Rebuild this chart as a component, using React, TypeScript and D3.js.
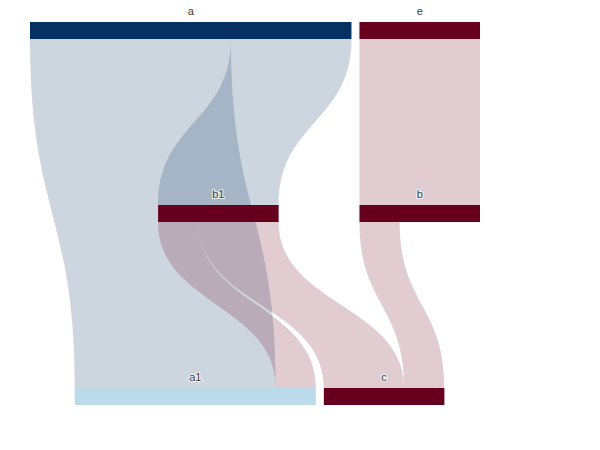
import React from "react";
import * as d3 from "d3";

// nodes and links of the flow
const nodeNames = ["a", "e", "b1", "b", "a1", "c"];
const nodeColors = ["#053061", "#67001f", "#67001f", "#67001f", "#bcdbea", "#67001f"];
const linkSources = ["a", "a", "b1", "b1", "e", "b"];
const linkTargets = ["a1", "b1", "a1", "c", "b", "c"];
const linkValues = [5, 3, 1, 2, 3, 1];

const width = 600,
  height = 450,
  extentX = [30, 480],
  extentY = [22, 405],
  nodeThickness = 17,
  nodeGap = 8,
  iterations = 32;

// vertical sankey: layers go down, nodes are spread along x and relaxed
function computeSankey() {
  const nodes: any[] = nodeNames.map((name, i) => ({
    name,
    index: i,
    color: nodeColors[i],
    inEdges: [],
    outEdges: [],
  }));
  const byName = new Map(nodes.map((n) => [n.name, n]));
  const links: any[] = linkValues.map((value, i) => ({
    index: i,
    source: byName.get(linkSources[i]),
    target: byName.get(linkTargets[i]),
    value,
  }));
  links.forEach((l) => {
    l.source.outEdges.push(l);
    l.target.inEdges.push(l);
  });
  nodes.forEach((n) => {
    n.value = Math.max(
      d3.sum(n.outEdges, (l: any) => l.value),
      d3.sum(n.inEdges, (l: any) => l.value)
    );
  });

  // depth = longest path from a root, sinks pushed to the last layer
  const depthOf = (n: any): number =>
    n.inEdges.length ? 1 + (d3.max(n.inEdges, (l: any) => depthOf(l.source)) as number) : 0;
  nodes.forEach((n) => (n.depth = depthOf(n)));
  const maxDepth = d3.max(nodes, (n) => n.depth) as number;
  nodes.forEach((n) => (n.layer = n.outEdges.length ? n.depth : maxDepth));

  const layerY = d3
    .scaleLinear()
    .domain([0, maxDepth])
    .range([extentY[0], extentY[1] - nodeThickness]);
  nodes.forEach((n) => {
    n.y0 = layerY(n.layer);
    n.y1 = n.y0 + nodeThickness;
  });

  const columns: any[][] = d3.range(maxDepth + 1).map(() => []);
  nodes.forEach((n) => columns[n.layer].push(n));

  const span = extentX[1] - extentX[0];
  const ky = d3.min(
    columns,
    (c) => (span - (c.length - 1) * nodeGap) / d3.sum(c, (n: any) => n.value)
  ) as number;
  const valueX = d3.scaleLinear().domain([0, 1]).range([0, ky]);

  columns.forEach((col) =>
    col.forEach((n, i) => {
      n.x = i;
      n.dx = valueX(n.value);
    })
  );
  links.forEach((l) => (l.width = valueX(l.value)));

  const center = (n: any) => n.x + n.dx / 2;

  const resolveCollisions = () => {
    columns.forEach((col) => {
      col.sort((a, b) => a.x - b.x);
      let x0 = 0,
        n: any = null;
      col.forEach((node) => {
        n = node;
        const d = x0 - node.x;
        if (d > 0) node.x += d;
        x0 = node.x + node.dx + nodeGap;
      });
      let d = x0 - nodeGap - span;
      if (d > 0) {
        n.x -= d;
        x0 = n.x;
        for (let i = col.length - 2; i >= 0; --i) {
          const node = col[i];
          d = node.x + node.dx + nodeGap - x0;
          if (d > 0) node.x -= d;
          x0 = node.x;
        }
      }
    });
  };

  const relaxUp = (alpha: number) => {
    columns
      .slice()
      .reverse()
      .forEach((col) =>
        col.forEach((n) => {
          if (!n.outEdges.length) return;
          const c =
            d3.sum(n.outEdges, (l: any) => center(l.target) * l.value) /
            d3.sum(n.outEdges, (l: any) => l.value);
          n.x += (c - center(n)) * alpha;
        })
      );
  };
  const relaxDown = (alpha: number) => {
    columns.forEach((col) =>
      col.forEach((n) => {
        if (!n.inEdges.length) return;
        const c =
          d3.sum(n.inEdges, (l: any) => center(l.source) * l.value) /
          d3.sum(n.inEdges, (l: any) => l.value);
        n.x += (c - center(n)) * alpha;
      })
    );
  };

  resolveCollisions();
  let alpha = 1;
  for (let it = iterations; it > 0; it--) {
    alpha *= 0.99;
    relaxUp(alpha);
    resolveCollisions();
    relaxDown(alpha);
    resolveCollisions();
  }

  nodes.forEach((n) => {
    n.x0 = extentX[0] + n.x;
    n.x1 = n.x0 + n.dx;
  });

  // link offsets along each node, ordered by the node at the other end
  nodes.forEach((n) => {
    n.outEdges.sort((a: any, b: any) => a.target.x0 - b.target.x0);
    n.inEdges.sort((a: any, b: any) => a.source.x0 - b.source.x0);
    let xs = n.x0,
      xt = n.x0;
    n.outEdges.forEach((l: any) => {
      l.x0 = xs;
      xs += l.width;
    });
    n.inEdges.forEach((l: any) => {
      l.x1 = xt;
      xt += l.width;
    });
  });

  return { nodes, links };
}

// filled band between two vertical curves
function bandPath(l: any) {
  const ys = l.source.y1,
    yt = l.target.y0,
    ym = (ys + yt) / 2;
  const p = d3.path();
  p.moveTo(l.x0, ys);
  p.bezierCurveTo(l.x0, ym, l.x1, ym, l.x1, yt);
  p.lineTo(l.x1 + l.width, yt);
  p.bezierCurveTo(l.x1 + l.width, ym, l.x0 + l.width, ym, l.x0 + l.width, ys);
  p.closePath();
  return p.toString();
}

export default function App() {
  const { nodes, links } = computeSankey();

  const linkPaths = links.map((l) => (
    <path
      key={"link-" + l.index}
      d={bandPath(l)}
      fill={l.source.color}
      fillOpacity={0.2}
    />
  ));

  const nodeRects = nodes.map((n) => (
    <rect
      key={"node-" + n.name}
      x={n.x0}
      y={n.y0}
      width={n.x1 - n.x0}
      height={n.y1 - n.y0}
      fill={n.color}
    />
  ));

  const labels = nodes.map((n) => (
    <text
      key={"label-" + n.name}
      x={(n.x0 + n.x1) / 2}
      y={n.y0 - 7}
      textAnchor="middle"
      fontSize={11}
      fontFamily="'Liberation Sans', Arial, sans-serif"
      fill="#3a3a3a"
      stroke="#fff"
      strokeWidth={2}
      strokeOpacity={0.8}
      paintOrder="stroke"
    >
      {n.name}
    </text>
  ));

  return (
    <svg
      width={width}
      height={height}
      style={{ position: "absolute", left: 0, top: 0, background: "#fff" }}
    >
      <g>{linkPaths}</g>
      <g>{nodeRects}</g>
      <g>{labels}</g>
    </svg>
  );
}
